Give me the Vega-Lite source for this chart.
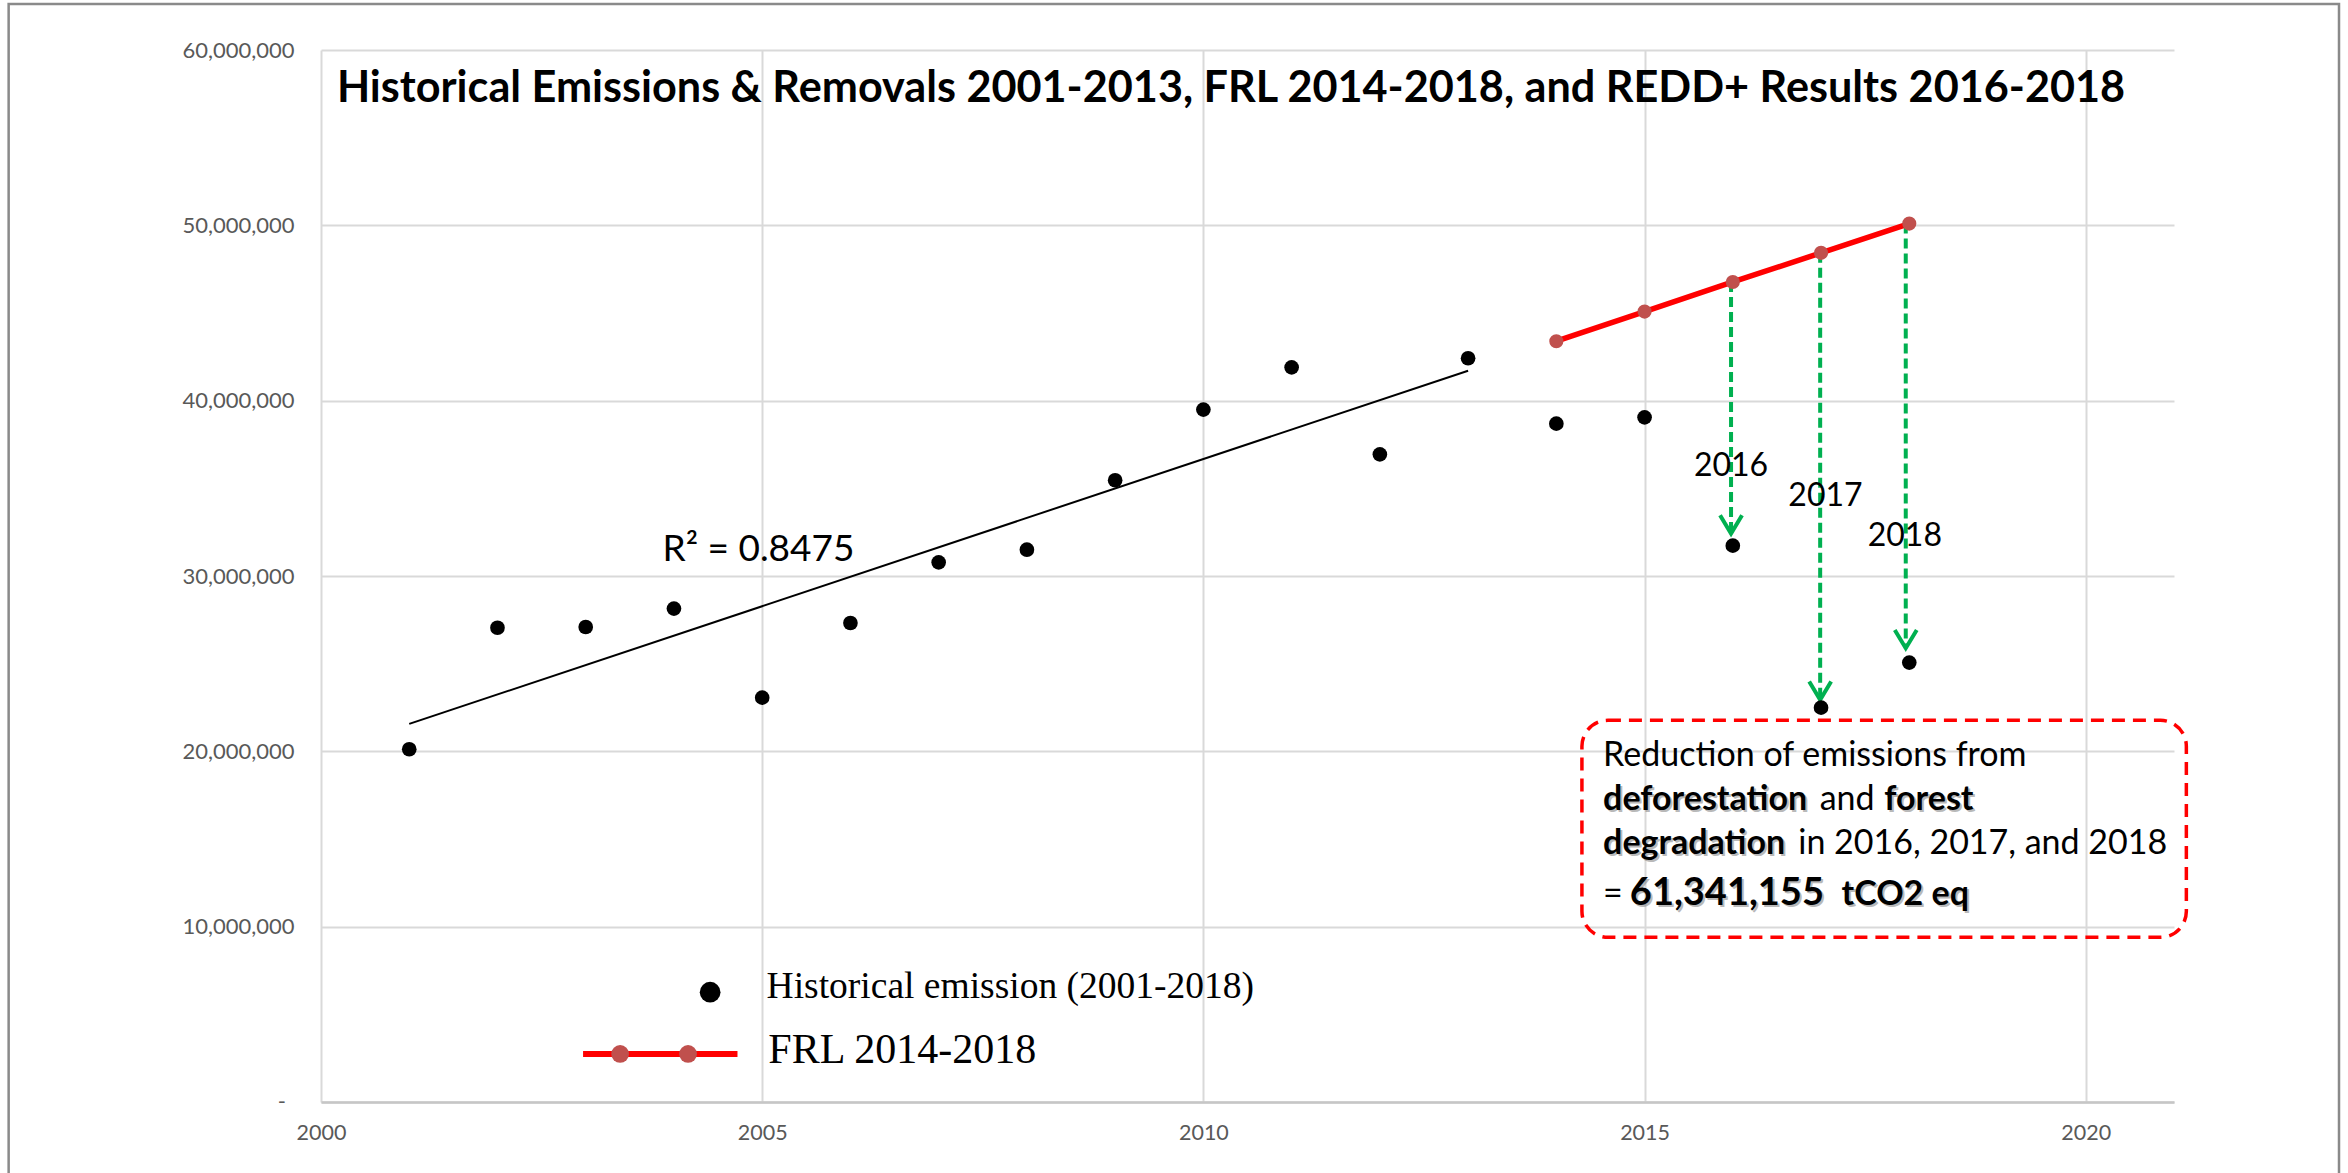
{
  "$schema": "https://vega.github.io/schema/vega-lite/v6.json",
  "width": 1853,
  "height": 1052,
  "autosize": {"type": "none"},
  "padding": {"left": 321, "top": 50, "right": 174, "bottom": 71},
  "background": "white",
  "config": {"view": {"stroke": null}},
  "datasets": {
    "hist": [
      {"year": 2001, "emissions": 20120000},
      {"year": 2002, "emissions": 27050000},
      {"year": 2003, "emissions": 27090000},
      {"year": 2004, "emissions": 28140000},
      {"year": 2005, "emissions": 23060000},
      {"year": 2006, "emissions": 27320000},
      {"year": 2007, "emissions": 30780000},
      {"year": 2008, "emissions": 31500000},
      {"year": 2009, "emissions": 35460000},
      {"year": 2010, "emissions": 39490000},
      {"year": 2011, "emissions": 41900000},
      {"year": 2012, "emissions": 36940000},
      {"year": 2013, "emissions": 42420000},
      {"year": 2014, "emissions": 38690000},
      {"year": 2015, "emissions": 39050000},
      {"year": 2016, "emissions": 31730000},
      {"year": 2017, "emissions": 22490000},
      {"year": 2018, "emissions": 25060000}
    ],
    "frl": [
      {"year": 2014, "emissions": 43390000},
      {"year": 2015, "emissions": 45080000},
      {"year": 2016, "emissions": 46770000},
      {"year": 2017, "emissions": 48430000},
      {"year": 2018, "emissions": 50100000}
    ],
    "reduction": [
      {"year": 2015.98, "emissions": 46770000, "tip": 32420000},
      {"year": 2016.99, "emissions": 48430000, "tip": 22940000},
      {"year": 2017.96, "emissions": 50100000, "tip": 25880000}
    ],
    "arrowTips": [
      {"year": 2015.98, "emissions": 32420000},
      {"year": 2016.99, "emissions": 22940000},
      {"year": 2017.96, "emissions": 25880000}
    ],
    "yearLabels": [
      {"text": "2016", "year": 2015.98, "emissions": 35720000},
      {"text": "2017", "year": 2017.05, "emissions": 34020000},
      {"text": "2018", "year": 2017.95, "emissions": 31710000}
    ],
    "zeroLabel": [{"text": "-", "year": 1999.51, "emissions": 0}],
    "box": [{"year": 2014.29, "year2": 2021.14, "emissions": 9390000, "emissions2": 21770000}],
    "frame": [{"year": 1996.46, "year2": 2022.87, "emissions": -8000000, "emissions2": 62620000}],
    "note": [
      {"text": "Reduction of emissions from", "part": "plain", "year": 2014.53, "emissions": 19190000},
      {"text": "deforestation", "part": "bold", "year": 2014.53, "emissions": 16680000},
      {"text": "and", "part": "plain", "year": 2016.985, "emissions": 16680000},
      {"text": "forest", "part": "bold", "year": 2017.717, "emissions": 16680000},
      {"text": "degradation", "part": "bold", "year": 2014.53, "emissions": 14150000},
      {"text": "in 2016, 2017, and 2018", "part": "plain", "year": 2016.742, "emissions": 14150000},
      {"text": "=", "part": "plain", "year": 2014.53, "emissions": 11240000},
      {"text": "61,341,155", "part": "total", "year": 2014.833, "emissions": 11240000},
      {"text": "tCO2 eq", "part": "bold", "year": 2017.232, "emissions": 11240000}
    ],
    "headline": [
      {"text": "Historical Emissions & Removals 2001-2013, FRL 2014-2018, and REDD+ Results 2016-2018", "year": 2000.18, "emissions": 57030000}
    ],
    "r2": [{"text": "R² = 0.8475", "year": 2003.87, "emissions": 30860000}],
    "legendLine": [{"year": 2002.97, "year2": 2004.72, "emissions": 2740000}],
    "legendDots": [
      {"series": "hist", "year": 2004.41, "emissions": 6260000},
      {"series": "frl", "year": 2003.39, "emissions": 2740000},
      {"series": "frl", "year": 2004.16, "emissions": 2740000}
    ],
    "legendLabels": [
      {"text": "Historical emission (2001-2018)", "series": "hist", "year": 2005.05, "emissions": 5910000},
      {"text": "FRL 2014-2018", "series": "frl", "year": 2005.07, "emissions": 2210000}
    ]
  },
  "encoding": {
    "x": {"field": "year", "type": "quantitative", "scale": {"domain": [2000, 2021], "nice": false, "zero": false},
      "axis": {"values": [2000, 2005, 2010, 2015, 2020], "format": "d", "title": null, "grid": true, "gridColor": "#d9d9d9", "gridWidth": 2, "ticks": false, "domain": true, "domainColor": "#c6c6c6", "domainWidth": 2.5, "labelFont": "Lato", "labelFontSize": 21.5, "labelColor": "#595959", "labelPadding": 20, "labelFlush": false}},
    "y": {"field": "emissions", "type": "quantitative", "scale": {"domain": [0, 60000000], "nice": false, "zero": false},
      "axis": {"values": [0, 10000000, 20000000, 30000000, 40000000, 50000000, 60000000], "title": null, "grid": true, "gridColor": "#d9d9d9", "gridWidth": 2, "ticks": false, "domain": false, "labelFont": "Lato", "labelFontSize": 22, "labelColor": "#595959", "labelPadding": 27, "labelExpr": "datum.value == 0 ? '' : format(datum.value, ',')"}}
  },
  "layer": [
    {
      "data": {"name": "frame"},
      "mark": {"type": "rect", "fillOpacity": 0, "fill": "white", "stroke": "#8a8a8a", "strokeWidth": 2.5},
      "encoding": {"x2": {"field": "year2"}, "y2": {"field": "emissions2"}}
    },
    {
      "data": {"name": "zeroLabel"},
      "mark": {"type": "text", "font": "Lato", "fontSize": 22, "color": "#595959", "align": "left", "baseline": "middle"},
      "encoding": {"text": {"field": "text"}}
    },
    {
      "data": {"name": "box"},
      "mark": {"type": "rect", "fillOpacity": 0, "fill": "white", "stroke": "#FF0000", "strokeWidth": 3.5, "strokeDash": [13, 8], "cornerRadius": 26},
      "encoding": {"x2": {"field": "year2"}, "y2": {"field": "emissions2"}}
    },
    {
      "data": {"name": "hist"},
      "transform": [
        {"filter": "datum.year <= 2013"},
        {"regression": "emissions", "on": "year", "extent": [2001, 2013]}
      ],
      "mark": {"type": "line", "color": "black", "strokeWidth": 2}
    },
    {
      "data": {"name": "frl"},
      "mark": {"type": "line", "color": "#FF0000", "strokeWidth": 5.5}
    },
    {
      "data": {"name": "reduction"},
      "mark": {"type": "rule", "color": "#00B050", "strokeWidth": 4, "strokeDash": [10, 5]},
      "encoding": {"y2": {"field": "tip"}}
    },
    {
      "data": {"name": "arrowTips"},
      "mark": {"type": "point", "shape": "M-0.6,-1L0,0L0.6,-1", "filled": false, "color": "#00B050", "strokeWidth": 4, "size": 1340, "opacity": 1}
    },
    {
      "data": {"name": "frl"},
      "mark": {"type": "circle", "color": "#C0504D", "size": 200, "opacity": 1}
    },
    {
      "data": {"name": "hist"},
      "mark": {"type": "circle", "color": "black", "size": 215, "opacity": 1}
    },
    {
      "data": {"name": "yearLabels"},
      "mark": {"type": "text", "font": "Lato", "fontSize": 32, "color": "black", "align": "center", "baseline": "alphabetic"},
      "encoding": {"text": {"field": "text"}}
    },
    {
      "data": {"name": "r2"},
      "mark": {"type": "text", "font": "Lato", "fontSize": 37, "color": "black", "align": "left", "baseline": "alphabetic"},
      "encoding": {"text": {"field": "text"}}
    },
    {
      "data": {"name": "headline"},
      "mark": {"type": "text", "font": "Lato", "fontWeight": "bold", "fontSize": 43.2, "color": "black", "align": "left", "baseline": "alphabetic"},
      "encoding": {"text": {"field": "text"}}
    },
    {
      "data": {"name": "note"},
      "transform": [{"filter": "datum.part != 'plain'"}],
      "mark": {"type": "text", "font": "Lato", "fontWeight": "bold", "fontSize": 34, "color": "#808080", "opacity": 0.55, "dx": 2, "dy": 2, "align": "left", "baseline": "alphabetic"},
      "encoding": {
        "text": {"field": "text"},
        "size": {"condition": {"test": "datum.part == 'total'", "value": 38}, "value": 34}
      }
    },
    {
      "data": {"name": "note"},
      "transform": [{"filter": "datum.part == 'plain'"}],
      "mark": {"type": "text", "font": "Lato", "fontSize": 34, "color": "black", "align": "left", "baseline": "alphabetic"},
      "encoding": {"text": {"field": "text"}}
    },
    {
      "data": {"name": "note"},
      "transform": [{"filter": "datum.part != 'plain'"}],
      "mark": {"type": "text", "font": "Lato", "fontWeight": "bold", "fontSize": 34, "color": "black", "align": "left", "baseline": "alphabetic"},
      "encoding": {
        "text": {"field": "text"},
        "size": {"condition": {"test": "datum.part == 'total'", "value": 38}, "value": 34}
      }
    },
    {
      "data": {"name": "legendLine"},
      "mark": {"type": "rule", "color": "#FF0000", "strokeWidth": 6},
      "encoding": {"x2": {"field": "year2"}}
    },
    {
      "data": {"name": "legendDots"},
      "transform": [{"filter": "datum.series == 'frl'"}],
      "mark": {"type": "circle", "color": "#C0504D", "size": 314, "opacity": 1}
    },
    {
      "data": {"name": "legendDots"},
      "transform": [{"filter": "datum.series == 'hist'"}],
      "mark": {"type": "circle", "color": "black", "size": 430, "opacity": 1}
    },
    {
      "data": {"name": "legendLabels"},
      "mark": {"type": "text", "font": "Liberation Serif", "fontSize": 37, "color": "black", "align": "left", "baseline": "alphabetic"},
      "encoding": {
        "text": {"field": "text"},
        "size": {"condition": {"test": "datum.series == 'frl'", "value": 42}, "value": 37.5}
      }
    }
  ]
}
